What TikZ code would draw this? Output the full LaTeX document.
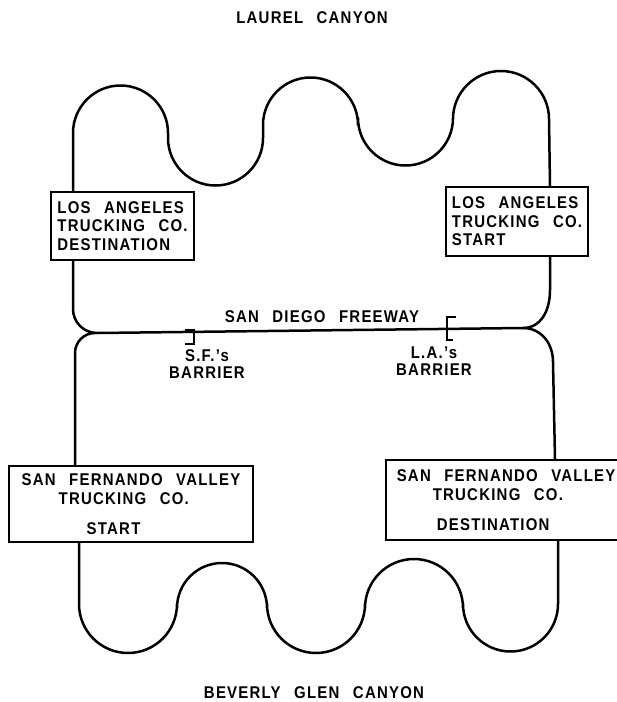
\documentclass[tikz,border=0pt]{standalone}
\usepackage{fontspec}
\setmainfont{Liberation Sans Bold}[FakeStretch=0.88,LetterSpace=7.3,WordSpace=2.5]
\usetikzlibrary{positioning}

\begin{document}
\begin{tikzpicture}[x=1pt,y=-1pt,font=\fontsize{17}{18.5}\selectfont,
    road/.style={line width=2.5pt,line join=round},
    bar/.style={line width=2.2pt},
    box/.style={draw,line width=2.2pt,align=left,inner sep=0pt,fill=white},
    lbl/.style={align=center,inner sep=0pt}]
  \useasboundingbox (0,0) rectangle (617,702);
  % canyon names
  \node[lbl] (laurel) at (312,18) {LAUREL CANYON};
  \node[lbl] (beverly) at (314,693) {BEVERLY GLEN CANYON};
  % trucking companies
  \node[box,minimum width=143,minimum height=68] (laDest) at (122.5,226)
    {LOS ANGELES\\TRUCKING CO.\\DESTINATION};
  \node[box,minimum width=142,minimum height=69] (laStart) at (517,221.5)
    {LOS ANGELES\\TRUCKING CO.\\START};
  \node[box,minimum width=244,minimum height=76] (sfStart) at (131,504)
    {SAN FERNANDO VALLEY\\\hspace*{37pt}TRUCKING CO.\\[11.5pt]\hspace*{65pt}START};
  \node[box,anchor=west,minimum width=240,minimum height=80] (sfDest) at (385,500)
    {SAN FERNANDO VALLEY\\\hspace*{36pt}TRUCKING CO.\\[11.5pt]\hspace*{40pt}DESTINATION};
  % where the roads leave the boxes
  \coordinate (xA) at (73,0);  \coordinate (xB) at (550,0);
  \coordinate (xC) at (75,0);  \coordinate (xD) at (555,0);
  \coordinate (xE) at (79,0);  \coordinate (xF) at (558,0);
  \coordinate (fwR) at (523,328);
  % Laurel Canyon
  \draw[road] (laDest.north -| xA) -- (73,133)
    arc[start angle=180,end angle=0,radius=47.5pt] -- (168,138)
    arc[start angle=180,end angle=360,radius=47.5pt] -- (263,125)
    arc[start angle=180,end angle=0,radius=47.5pt] -- (358,118)
    arc[start angle=180,end angle=360,radius=47.5pt] -- (453,119)
    arc[start angle=180,end angle=0,radius=48pt] -- (laStart.north -| xB);
  % San Diego Freeway
  \draw[road] (laDest.south -| xA) -- (73,309)
    arc[start angle=180,end angle=270,radius=24pt] -- (fwR)
    .. controls (540,328) and (550,312) .. (550,290) -- (laStart.south -| xB);
  \draw[road] (sfStart.north -| xC) -- (75,353)
    arc[start angle=180,end angle=90,radius=20pt] coordinate (fwL);
  \draw[road] (fwR) .. controls (540,328) and (553,342) .. (553,362)
    -- (sfDest.north -| xD);
  % Beverly Glen Canyon
  \draw[road] (sfStart.south -| xE) -- (79,604)
    arc[start angle=180,end angle=360,radius=49pt] -- (177,608)
    arc[start angle=180,end angle=0,radius=45pt] -- (267,604)
    arc[start angle=180,end angle=360,radius=49pt] -- (365,608)
    arc[start angle=180,end angle=0,radius=49pt] -- (463,604)
    arc[start angle=180,end angle=360,radius=47.5pt] -- (sfDest.south -| xF);
  % barriers
  \coordinate (sfBar) at (194,330);
  \coordinate (laBar) at (447,317);
  \draw[bar] (sfBar) ++(-9,0) -- (sfBar) -- ++(0,14) -- ++(-9,0);
  \draw[bar] (laBar) ++(9,0) -- (laBar) -- ++(0,23) -- ++(6,0);
  \node[lbl] (fwy) at (322,317) {SAN DIEGO FREEWAY};
  \node[lbl] (sfLbl) at (207,364) {S.F.'s\\[-1.5pt]BARRIER};
  \node[lbl] (laLbl) at (434,361) {L.A.'s\\[-1.5pt]BARRIER};
\end{tikzpicture}
\end{document}
